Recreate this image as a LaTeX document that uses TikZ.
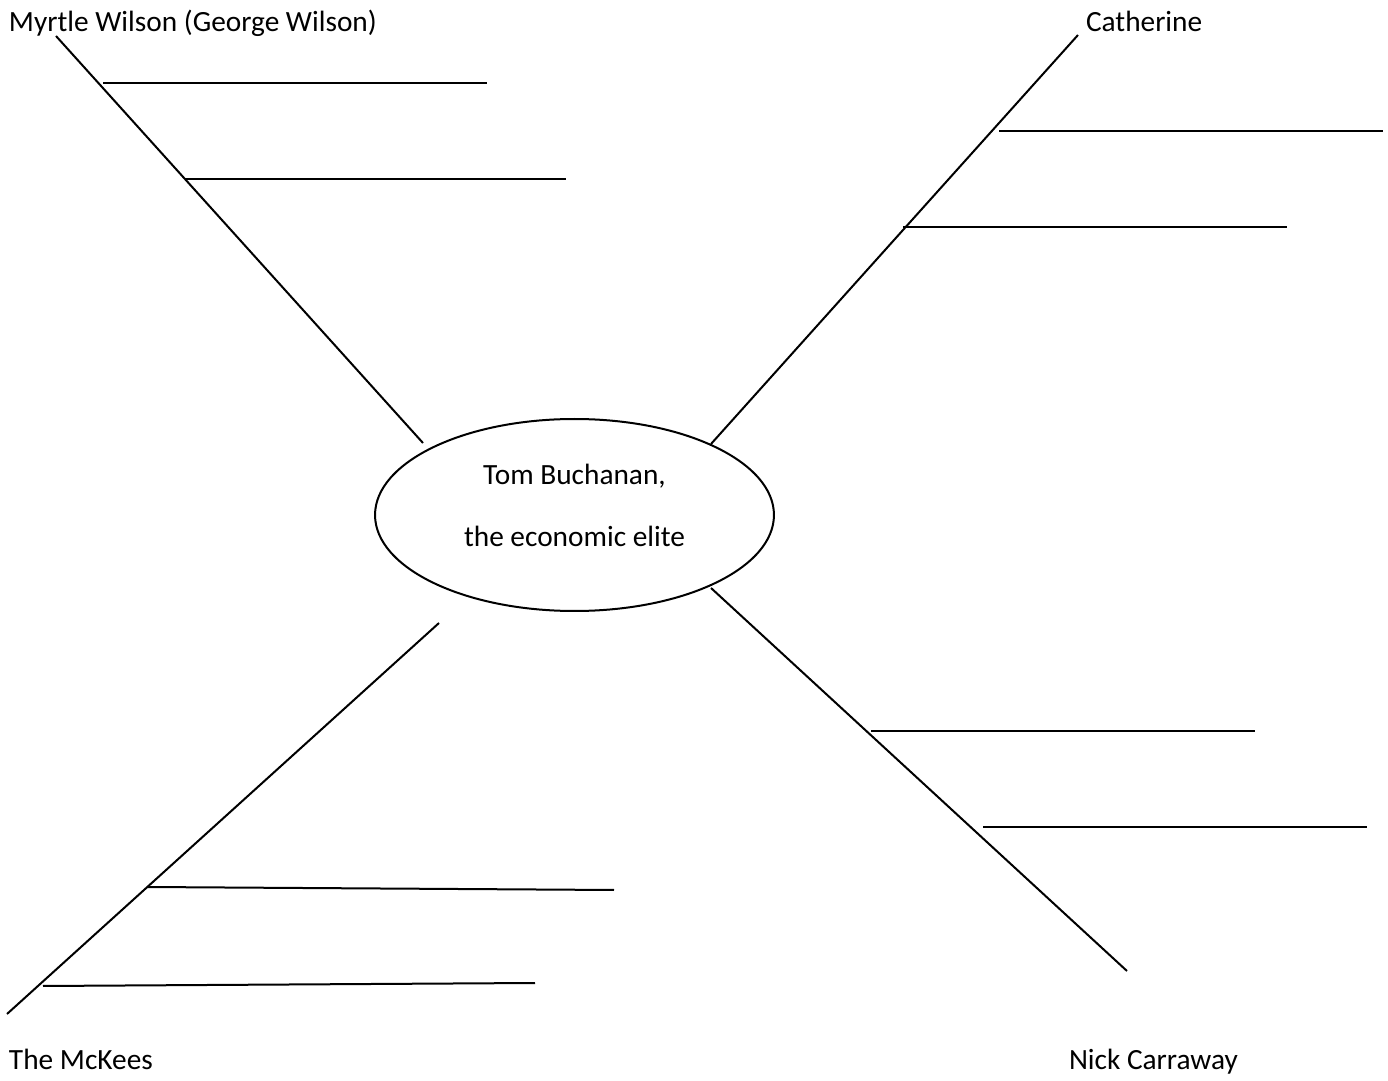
\documentclass[tikz,border=0pt]{standalone}
\usepackage{fontspec}
\setmainfont{Carlito}
\usetikzlibrary{calc,shapes.geometric}

\begin{document}
\begin{tikzpicture}[x=0.375pt, y=-0.375pt, line width=0.75pt,
    who/.style={font=\fontsize{11}{13}\selectfont, inner sep=0pt, anchor=base west},
    centretext/.style={font=\fontsize{11}{13}\selectfont, inner sep=0pt, anchor=base}]
    \useasboundingbox (0,0) rectangle (1388,1081);

    % centre
    \node[draw, ellipse, inner sep=0pt, minimum width=149.6pt, minimum height=72pt] (tom) at (574.5,515) {};
    \node[centretext] (tomname) at (574.5,485) {Tom Buchanan,};
    \node[centretext] (tomrole) at (574.5,547) {the economic elite};

    % spokes
    \coordinate (myrtlein) at (423,443);   \coordinate (myrtleout) at (56,36);
    \coordinate (cathin) at (711,444);     \coordinate (cathout) at (1078,35);
    \coordinate (nickin) at (711,588);     \coordinate (nickout) at (1127,971);
    \coordinate (mckin) at (439,623);      \coordinate (mckout) at (7,1014);
    \draw (myrtlein) -- (myrtleout);
    \draw (cathin) -- (cathout);
    \draw (nickin) -- (nickout);
    \draw (mckin) -- (mckout);

    % blank lines
    \foreach \xa/\ya/\xb/\yb in {103/83/487/83, 185/179/566/179,
        999/131/1383/131, 903/227/1287/227,
        871/731/1255/731, 983/827/1367/827,
        147/887/614/890, 43/986/535/983}
      \draw (\xa,\ya) -- (\xb,\yb);

    % names
    \node[who] (myrtle) at (8,32) {Myrtle Wilson (George Wilson)};
    \node[who] (cath) at (1085,32) {Catherine};
    \node[who] (nick) at (1068,1069) {Nick Carraway};
    \node[who] (mckees) at (8,1069) {The McKees};
\end{tikzpicture}
\end{document}
